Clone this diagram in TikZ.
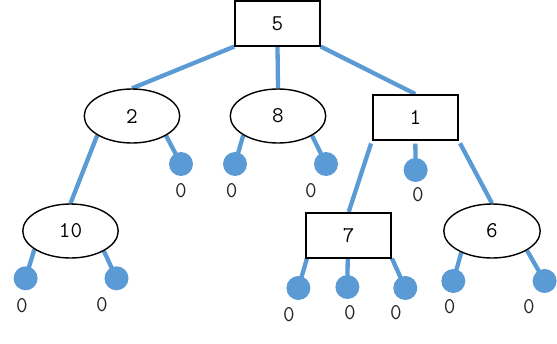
\documentclass[tikz,border=0pt]{standalone}
\usetikzlibrary{shapes.geometric,backgrounds}
\definecolor{edgeblue}{RGB}{91,155,213}
\begin{document}
\begin{tikzpicture}[x=1pt,y=-1pt,
  every node/.style={font=\ttfamily\fontsize{22.5}{22.5}\selectfont},
  boxnode/.style={draw=black,line width=1.6pt,fill=white,minimum width=85pt,minimum height=45pt,inner sep=0pt},
  ellnode/.style={draw=black,line width=1.4pt,fill=white,ellipse,minimum width=95.5pt,minimum height=54pt,inner sep=0pt},
  leaf/.style={circle,fill=edgeblue,minimum size=24pt,inner sep=0pt},
  leaflabel/.style={inner sep=0pt,text=black!85},
  link/.style={draw=edgeblue,line width=4.3pt}]
\useasboundingbox (0,0) rectangle (557,343);
% internal nodes
\node[boxnode] (r) at (277.5,23.3) {5};
\node[ellnode] (n2) at (132,116) {2};
\node[ellnode] (n8) at (278,116) {8};
\node[boxnode] (n1) at (415.3,117.3) {1};
\node[ellnode] (n10) at (70.5,231) {10};
\node[boxnode] (n7) at (348.7,235.2) {7};
\node[ellnode,minimum width=96.5pt] (n6) at (492,231) {6};
% leaves
\node[leaf] (c2r) at (181,164) {};
\node[leaf] (c8l) at (235,164) {};
\node[leaf] (c8r) at (326,164) {};
\node[leaf] (c1m) at (415.6,170) {};
\node[leaf] (c10l) at (25.6,278.3) {};
\node[leaf] (c10r) at (116.5,278.3) {};
\node[leaf] (c7l) at (298.4,288) {};
\node[leaf] (c7m) at (347.4,287) {};
\node[leaf] (c7r) at (405.3,288) {};
\node[leaf] (c6l) at (453.3,281) {};
\node[leaf] (c6r) at (544.6,281) {};
% leaf labels
\node[leaflabel] (l2r) at (181,190.7) {0};
\node[leaflabel] (l8l) at (231.6,190.7) {0};
\node[leaflabel] (l8r) at (310.8,190.7) {0};
\node[leaflabel] (l1m) at (417.8,195) {0};
\node[leaflabel] (l10l) at (22,306) {0};
\node[leaflabel] (l10r) at (102,304.3) {0};
\node[leaflabel] (l7l) at (288.8,314.3) {0};
\node[leaflabel] (l7m) at (350,312.3) {0};
\node[leaflabel] (l7r) at (396,312.3) {0};
\node[leaflabel] (l6l) at (449.7,306.7) {0};
\node[leaflabel] (l6r) at (529,306.7) {0};
% connectors
\begin{pgfonlayer}{background}
\draw[link] (r.south west) -- (n2.north);
\draw[link] (r.south) -- (n8.north);
\draw[link] (r.south east) -- (n1.north);
\draw[link] (n2.209.5) -- (n10.north);
\draw[link] (n2.330.8) -- (c2r.center);
\draw[link] (n8.209.5) -- (c8l.center);
\draw[link] (n8.330.8) -- (c8r.center);
\draw[link, shorten <=3pt] (n1.south west) -- (n7.north);
\draw[link, shorten <=3pt] (n1.south) -- (c1m.center);
\draw[link, shorten <=3pt] (n1.south east) -- (n6.north);
\draw[link] (n10.207.8) -- (c10l.center);
\draw[link] (n10.329.7) -- (c10r.center);
\draw[link] ([xshift=1.5pt]n7.south west) -- (c7l.center);
\draw[link] ([xshift=-1pt]n7.south) -- (c7m.center);
\draw[link] (n7.south east) -- (c7r.center);
\draw[link] (n6.215.8) -- (c6l.center);
\draw[link] (n6.331) -- (c6r.center);
\end{pgfonlayer}
\end{tikzpicture}
\end{document}
